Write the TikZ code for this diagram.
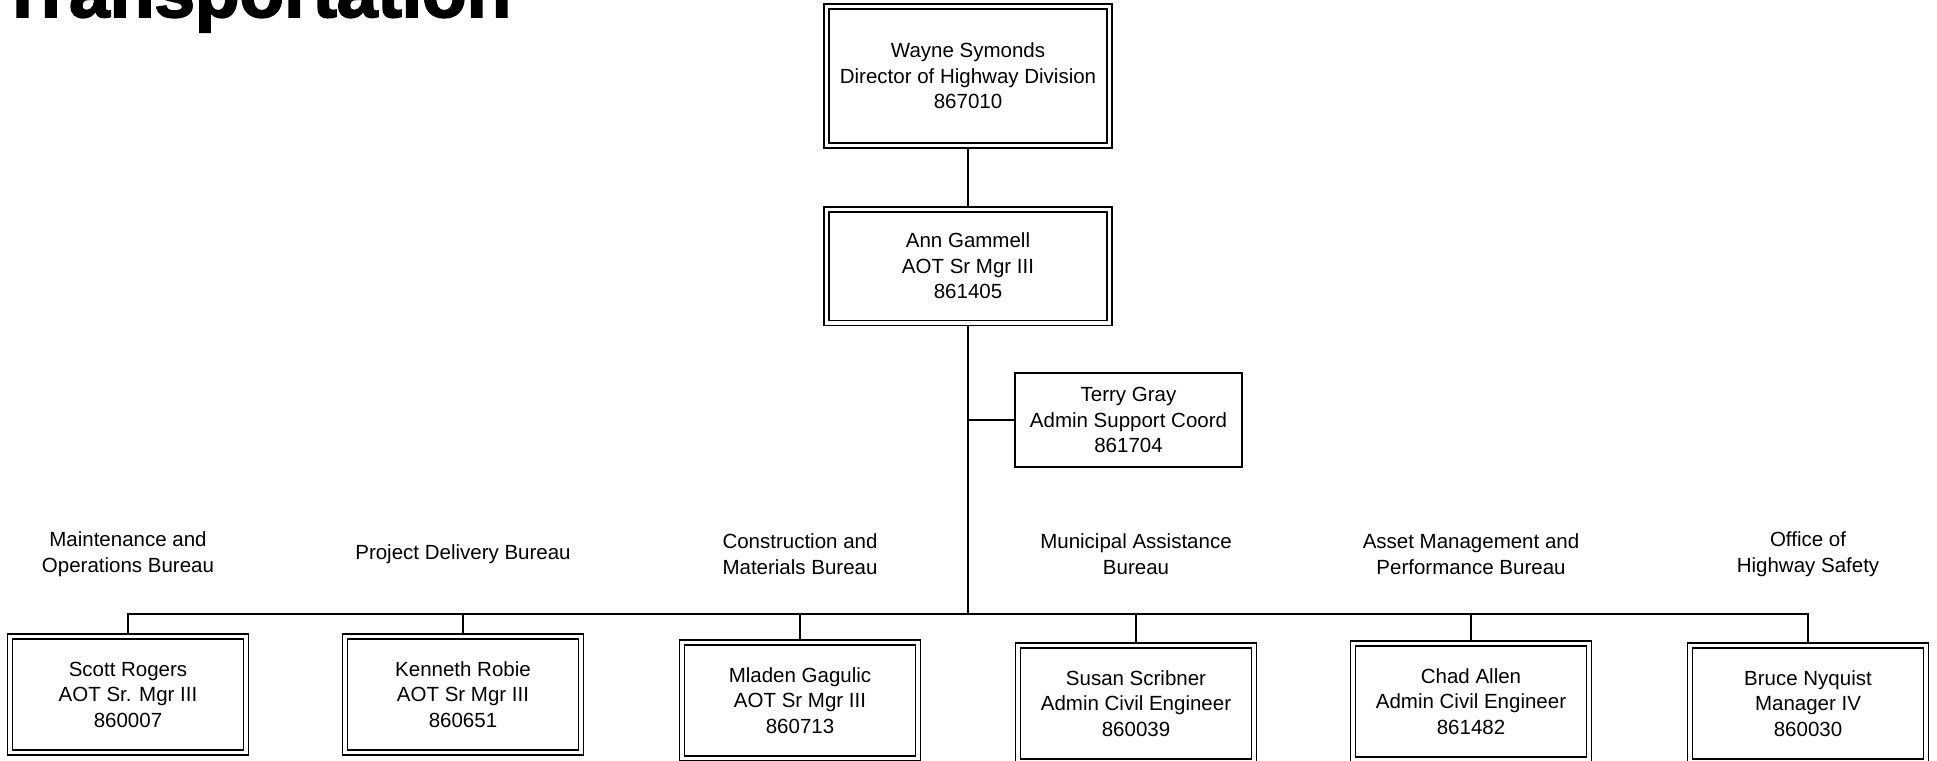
\documentclass[tikz,border=0pt]{standalone}
\usepackage{fontspec}
\setmainfont{Liberation Sans}
\newfontfamily\titlefont{Liberation Sans}[BoldFeatures={FakeBold=2.5}]

\tikzset{
  chief/.style={draw, double, line width=1.5pt, double distance=3.5pt,
    align=center, inner sep=0pt, minimum width=236pt, minimum height=116pt},
  assist/.style={draw, line width=1.5pt, align=center, inner sep=0pt,
    minimum width=227pt, minimum height=94pt},
  unit/.style={align=center, inner sep=0pt},
  link/.style={line width=1.8pt}
}

\begin{document}
\begin{tikzpicture}[x=1pt, y=-1pt, font=\fontsize{20.5}{25.5}\selectfont]
    \useasboundingbox (0,0) rectangle (1937,760);
    \clip (0,0) rectangle (1937,760);

    \node[anchor=base west, inner sep=0pt, font=\titlefont\bfseries\fontsize{73}{73}\selectfont] (title) at (0,17) {Transportation};

    \node[chief, minimum width=283pt, minimum height=138.5pt] (wayne) at (968,76) {Wayne Symonds\\Director of Highway Division\\867010};
    \node[chief, minimum width=283pt, minimum height=113.5pt] (ann) at (968,266) {Ann Gammell\\AOT Sr Mgr III\\861405};
    \node[assist] (terry) at (1128.5,420) {Terry Gray\\Admin Support Coord\\861704};

    \coordinate (bus) at (968,614);
    \coordinate (tj) at (ann.south |- terry.west);

    \draw[link, shorten <=2.5pt, shorten >=2.5pt] (wayne) -- (ann);
    \draw[link, shorten <=2.5pt] (ann) -- (bus);
    \draw[link] (tj) -- (terry);

    \foreach \i/\x/\y/\who/\job/\num/\bureau in {
        1/128/694.5/{Scott Rogers}/{AOT Sr. Mgr III}/860007/{Maintenance and\\Operations Bureau},
        2/463/694.5/{Kenneth Robie}/{AOT Sr Mgr III}/860651/{Project Delivery Bureau},
        3/800/700.5/{Mladen Gagulic}/{AOT Sr Mgr III}/860713/{Construction and\\Materials Bureau},
        4/1136/703.5/{Susan Scribner}/{Admin Civil Engineer}/860039/{Municipal Assistance\\Bureau},
        5/1471/701.5/{Chad Allen}/{Admin Civil Engineer}/861482/{Asset Management and\\Performance Bureau},
        6/1808/703.5/{Bruce Nyquist}/{Manager IV}/860030/{Office of\\Highway Safety}} {
        \node[chief] (b\i) at (\x,\y) {\who\\\job\\\num};
        \node[unit] (u\i) at (\x,554) {\bureau};
        \draw[link, shorten >=2.5pt] (bus) -| (b\i);
    }
\end{tikzpicture}
\end{document}
